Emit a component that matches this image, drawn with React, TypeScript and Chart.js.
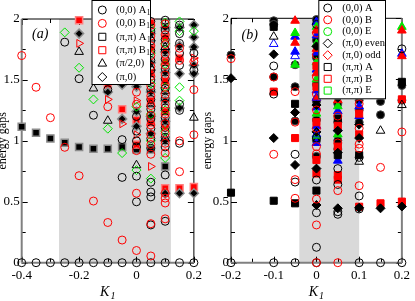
import React, { useEffect, useRef } from "react";
import { Chart, registerables } from "chart.js";

Chart.register(...registerables);

type Pt = [number, number];

const SERIF = "'Liberation Serif', 'Times New Roman', Times, serif";

// ---------- shared axis text ----------
const yTicks = [0, 0.5, 1, 1.5, 2];
const yTickLabels = ["0", "0.5", "1", "1.5", "2"];
const yMinorTicks = [0.25, 0.75, 1.25, 1.75];
const yTitle = "energy gaps";
const xTitleMain = "K";
const xTitleSub = "1";

// ---------- panel (a) ----------
const aXTicks = [-0.4, -0.2, 0, 0.2];
const aXTickLabels = ["-0.4", "-0.2", "0", "0.2"];
const aXMinorTicks = [-0.3, -0.1, 0.1];
const aShade = [-0.27, 0.12];
const aLabel = "(a)";
const aLegendLabels = ["(0,0) A", "(0,0) B", "(π,π) A", "(π,π) B", "(π/2,0)", "(π,0)"];
const aLegendSubs = ["1", "1", "1", "1", "", ""];

const aA1: Pt[] = [
  [-0.4, 0], [-0.35, 0], [-0.3, 0], [-0.25, 0], [-0.2, 0], [-0.15, 0], [-0.1, 0], [-0.05, 0], [0, 0], [0.05, 0], [0.1, 0], [0.15, 0], [0.2, 0],
  [-0.25, 1.81], [-0.2, 1.51], [-0.15, 1.21], [-0.1, 1.42], [-0.05, 1.01], [-0.05, 0.7],
  [0, 1.5], [0, 1.2], [0, 1.08], [0, 1.0], [0, 0.95], [0, 0.71], [0, 0.5],
  [0.05, 1.98], [0.05, 1.9], [0.05, 1.82], [0.05, 1.74], [0.05, 1.66], [0.05, 1.58], [0.05, 1.5], [0.05, 1.42], [0.05, 1.34], [0.05, 1.26], [0.05, 1.18], [0.05, 1.1], [0.05, 1.02], [0.05, 0.94], [0.05, 0.66], [0.05, 0.58], [0.05, 0.54], [0.05, 0.31],
  [0.1, 1.99], [0.1, 1.91], [0.1, 1.83], [0.1, 1.75], [0.1, 1.67], [0.1, 1.59], [0.1, 1.51], [0.1, 1.43], [0.1, 1.35], [0.1, 1.27], [0.1, 1.19], [0.1, 1.11], [0.1, 1.03], [0.1, 0.95], [0.1, 0.72], [0.1, 0.34],
  [0.15, 1.95], [0.15, 1.88], [0.15, 1.8], [0.15, 1.72], [0.15, 1.62], [0.15, 1.3], [0.15, 1.25], [0.15, 0.98],
  [0.2, 1.72], [0.2, 1.58],
];
const aB1: Pt[] = [
  [-0.4, 1.7], [-0.35, 1.44], [-0.3, 1.19], [-0.25, 0.947], [-0.2, 0.714], [-0.15, 0.506], [-0.1, 0.33], [-0.1, 1.28], [-0.05, 0.186],
  [0, 0.1], [0, 0.57], [0, 1.4], [0, 1.3], [0, 0.92],
  [0.05, 1.95], [0.05, 1.86], [0.05, 1.78], [0.05, 1.7], [0.05, 1.61], [0.05, 1.53], [0.05, 1.45], [0.05, 1.37], [0.05, 1.29], [0.05, 1.21], [0.05, 1.13], [0.05, 1.05], [0.05, 0.97], [0.05, 0.89], [0.05, 0.32], [0.05, 0.055],
  [0.1, 1.96], [0.1, 1.87], [0.1, 1.79], [0.1, 1.71], [0.1, 1.62], [0.1, 1.54], [0.1, 1.46], [0.1, 1.38], [0.1, 1.3], [0.1, 1.22], [0.1, 1.14], [0.1, 1.06], [0.1, 0.98], [0.1, 0.9], [0.1, 0.57], [0.1, 0.53], [0.1, 0.49], [0.1, 0.36],
  [0.15, 1.76], [0.15, 1.66], [0.15, 1.0], [0.15, 0.747],
  [0.2, 1.65], [0.2, 1.42], [0.2, 1.05],
];
const aPiPiA1: Pt[] = [
  [-0.4, 1.116], [-0.35, 1.067], [-0.3, 1.02], [-0.25, 0.985], [-0.2, 0.95], [-0.15, 0.935], [-0.1, 0.935], [-0.05, 0.95], [0, 0.93], [0.05, 0.93], [0.1, 0.79],
];
const aPiPiB1: Pt[] = [
  [-0.2, 1.99], [-0.1, 1.46], [-0.05, 1.26], [0, 1.17], [0, 0.97],
  [0.05, 1.97], [0.05, 1.76], [0.05, 1.55], [0.05, 1.33], [0.05, 1.15],
  [0.1, 1.85], [0.1, 1.65], [0.1, 1.49], [0.1, 1.24], [0.1, 1.12], [0.1, 0.61],
  [0.15, 1.68], [0.15, 0.61], [0.2, 0.62],
];
const aHalfPi0: Pt[] = [
  [-0.2, 1.73], [-0.15, 1.43], [-0.1, 1.165], [0, 0.8], [0.05, 1.84], [0.05, 1.6], [0.05, 1.3], [0.1, 1.77], [0.1, 1.41], [0.1, 1.02], [0.2, 1.19],
];
const aPi0: Pt[] = [
  [-0.2, 1.88], [-0.1, 1.4], [-0.05, 1.46], [-0.05, 1.18], [0, 1.7], [0, 1.445], [0, 1.24], [0, 1.12],
  [0.05, 1.88], [0.05, 1.64], [0.05, 1.4], [0.05, 1.2], [0.05, 1.06],
  [0.1, 1.93], [0.1, 1.73], [0.1, 1.56], [0.1, 1.33], [0.1, 1.16], [0.1, 1.0], [0.1, 0.57],
  [0.15, 1.93], [0.15, 1.78], [0.15, 1.55], [0.15, 1.27], [0.15, 0.57],
  [0.2, 1.95], [0.2, 1.85], [0.2, 1.77], [0.2, 1.62], [0.2, 1.55], [0.2, 0.57],
];
const aGreenDiamond: Pt[] = [
  [-0.25, 1.89], [-0.2, 1.6], [-0.15, 1.34], [-0.1, 1.1], [-0.05, 0.9], [0, 0.76], [0, 1.28],
  [0.05, 1.92], [0.05, 1.72], [0.05, 1.47], [0.05, 1.22], [0.05, 1.0], [0.05, 0.69],
  [0.1, 1.97], [0.1, 1.8], [0.1, 1.63], [0.1, 1.44], [0.1, 1.25], [0.1, 1.08], [0.1, 0.86],
  [0.15, 1.98], [0.15, 1.9], [0.15, 1.44], [0.15, 1.33], [0.2, 1.9],
];
const aRedTriangle: Pt[] = [
  [-0.2, 1.8], [-0.1, 1.34], [-0.05, 1.14], [0, 1.33], [0, 1.05], [0.05, 0.79], [0.2, 1.68],
];

// ---------- panel (b) ----------
const bXTicks = [-0.2, -0.1, 0, 0.1, 0.2];
const bXTickLabels = ["-0.2", "-0.1", "0", "0.1", "0.2"];
const bXMinorTicks = [-0.15, -0.05, 0.05, 0.15];
const bShade = [-0.04, 0.1];
const bLabel = "(b)";
const bLegendLabels = ["(0,0) A", "(0,0) B", "(0,0) E", "(π,0) even", "(π,0) odd", "(π,π) A", "(π,π) B", "(π,π) E"];

const bA: Pt[] = [
  [-0.2, 0], [-0.1, 0], [-0.05, 0], [0, 0], [0.1, 0], [0.15, 0], [0.2, 0],
  [-0.1, 1.61], [-0.1, 1.38], [-0.05, 0.887], [-0.05, 0.66], [0, 1.95], [0, 1.02], [0, 0.677], [0, 0.409], [0, 0.126],
  [0.05, 0.77], [0.05, 0.64], [0.05, 0.417], [0.05, 0.396], [0.1, 0.862], [0.1, 0.546], [0.1, 0.44], [0.2, 1.75],
];
const bB: Pt[] = [
  [-0.2, 1.67], [-0.1, 1.52], [-0.1, 0.887], [-0.05, 1.4], [-0.05, 1.15], [-0.05, 0.68], [-0.05, 0.527],
  [0, 1.88], [0, 1.7], [0, 1.52], [0, 1.38], [0, 1.25], [0, 1.1], [0, 0.95], [0, 0.89], [0, 0.52], [0, 0.309], [0, 0],
  [0.05, 1.88], [0.05, 1.66], [0.05, 1.48], [0.05, 1.2], [0.05, 0.98], [0.05, 0.59], [0.05, 0],
  [0.1, 1.92], [0.1, 1.7], [0.1, 1.3], [0.1, 1.1], [0.1, 0.97], [0.1, 0.936], [0.1, 0.63],
  [0.15, 0.78], [0.2, 1.07],
];
const bBlackDot: Pt[] = [
  [-0.2, 1.7], [-0.1, 1.98], [-0.1, 1.95], [-0.1, 1.52], [-0.05, 1.62], [-0.05, 1.44], [-0.05, 1.16],
  [0, 1.99], [0, 1.82], [0, 1.68], [0, 1.46], [0, 1.32], [0, 1.17], [0, 1.0], [0, 0.87],
  [0.05, 1.96], [0.05, 1.78], [0.05, 1.6], [0.05, 1.43], [0.05, 1.3], [0.05, 1.15], [0.05, 1.0], [0.05, 0.93],
  [0.1, 1.98], [0.1, 1.8], [0.1, 1.62], [0.1, 1.33], [0.1, 1.25], [0.1, 1.15],
  [0.15, 1.32], [0.15, 1.21], [0.2, 1.45], [0.2, 1.33],
];
const bEven: Pt[] = [
  [-0.2, 1.51], [-0.1, 1.705], [-0.1, 1.02], [-0.05, 1.23], [-0.05, 0.8],
  [0, 1.77], [0, 1.29], [0, 1.07], [0, 0.77], [0, 0.472],
  [0.05, 1.86], [0.05, 1.57], [0.05, 1.35], [0.05, 1.08], [0.05, 0.9], [0.05, 0.445],
  [0.1, 1.5], [0.1, 1.13], [0.1, 1.02], [0.1, 0.45], [0.15, 0.445], [0.2, 0.46],
];
const bPiPiA: Pt[] = [
  [-0.2, 0.573], [-0.1, 1.93], [-0.1, 0.507], [-0.05, 1.3], [-0.05, 0.486], [0, 0.59],
  [0.05, 1.65], [0.05, 1.18], [0.05, 0.88], [0.1, 0.88], [0.2, 1.48],
];
const bPiPiB: Pt[] = [
  [-0.1, 1.4], [-0.05, 1.02], [0, 1.61], [0, 1.44], [0, 1.15], [0, 0.84], [0, 0.73],
  [0.05, 1.75], [0.05, 1.38], [0.05, 1.12], [0.05, 0.95], [0.05, 0.717], [0.05, 0.68],
  [0.1, 1.65], [0.1, 1.22], [0.1, 1.05], [0.1, 0.458], [0.15, 0.486], [0.2, 0.5], [0.2, 1.337],
];
const bBlueTri: Pt[] = [
  [-0.05, 1.85], [-0.05, 1.727], [0, 1.97], [0, 1.86], [0, 1.72], [0, 1.58], [0, 1.41], [0, 1.27], [0, 1.12], [0, 0.98],
  [0.05, 1.98], [0.05, 1.84], [0.05, 1.7], [0.05, 1.55], [0.05, 1.4], [0.05, 1.24], [0.05, 1.1], [0.05, 0.835],
  [0.1, 1.88], [0.1, 1.55], [0.1, 1.28], [0.1, 1.2], [0.2, 1.71],
];
const bBlueOpenTri: Pt[] = [[-0.1, 1.79], [-0.05, 1.69], [0, 1.05], [0, 1.35]];
const bGreenTri: Pt[] = [
  [-0.05, 1.88], [-0.05, 1.62], [0, 1.93], [0, 1.79], [0, 1.64], [0, 1.5], [0, 1.22], [0, 1.04],
  [0.05, 1.94], [0.05, 1.8], [0.05, 1.62], [0.05, 1.47], [0.05, 1.28], [0.05, 1.05], [0.1, 1.75], [0.1, 1.45], [0.2, 1.93],
];
const bRedTri: Pt[] = [
  [-0.05, 1.98], [-0.05, 1.8], [0, 1.9], [0, 1.75], [0, 1.55], [0, 1.35],
  [0.05, 1.91], [0.05, 1.73], [0.05, 1.52], [0.05, 1.33], [0.2, 1.9], [0.2, 1.69],
];
const bBlackOpenTri: Pt[] = [[-0.1, 1.85], [0.1, 0.826], [0.15, 1.08], [0.2, 1.29]];

// ---------- styling ----------
const RED = "#ff0000";
const GREEN = "#00e600";
const BLUE = "#0000ff";
const NONE = "rgba(0,0,0,0)";
const GRAYRING = "#8c8c8c";

type Mk = { style: string; r: number; stroke: string; fill: string; lw: number; rot?: number };

const ds = (data: Pt[], m: Mk) => ({
  data: data.map(([x, y]) => ({ x, y })),
  pointStyle: m.style,
  pointRadius: m.r,
  pointHoverRadius: m.r,
  pointBorderWidth: m.lw,
  pointBorderColor: m.stroke,
  pointBackgroundColor: m.fill,
  pointRotation: m.rot || 0,
  showLine: false,
  clip: false as const,
});

const openCircle = (c: string): Mk => ({ style: "circle", r: 4, stroke: c, fill: NONE, lw: 1 });

const aDatasets = [
  ds(aB1, openCircle(RED)),
  ds(aA1, openCircle("#000")),
  ds(aGreenDiamond, { style: "rectRot", r: 4.5, stroke: GREEN, fill: NONE, lw: 1 }),
  ds(aRedTriangle, { style: "triangle", r: 4.5, stroke: RED, fill: NONE, lw: 1, rot: 90 }),
  ds(aHalfPi0, { style: "triangle", r: 5, stroke: "#000", fill: NONE, lw: 1 }),
  ds(aPi0, { style: "rectRot", r: 4.5, stroke: GRAYRING, fill: "#000", lw: 1.5 }),
  ds(aPiPiB1, { style: "rect", r: 5, stroke: "#ff8080", fill: RED, lw: 1.5 }),
  ds(aPiPiA1, { style: "rect", r: 5, stroke: GRAYRING, fill: "#000", lw: 1.5 }),
];

const bDatasets = [
  ds(bB, openCircle(RED)),
  ds(bA, openCircle("#000")),
  ds(bBlackOpenTri, { style: "triangle", r: 5, stroke: "#000", fill: NONE, lw: 1 }),
  ds(bBlueOpenTri, { style: "triangle", r: 5, stroke: BLUE, fill: NONE, lw: 1 }),
  ds(bEven, { style: "rectRot", r: 4.5, stroke: "#000", fill: "#000", lw: 1 }),
  ds(bPiPiB, { style: "rect", r: 5, stroke: RED, fill: RED, lw: 1 }),
  ds(bPiPiA, { style: "rect", r: 5, stroke: "#000", fill: "#000", lw: 1 }),
  ds(bRedTri, { style: "triangle", r: 5, stroke: RED, fill: RED, lw: 1 }),
  ds(bGreenTri, { style: "triangle", r: 5, stroke: GREEN, fill: GREEN, lw: 1 }),
  ds(bBlueTri, { style: "triangle", r: 5, stroke: BLUE, fill: BLUE, lw: 1 }),
  ds(bBlackDot, { style: "circle", r: 4, stroke: "#444", fill: "#000", lw: 1 }),
];

const aLegendMarks: Mk[] = [
  openCircle("#000"),
  openCircle(RED),
  { style: "rect", r: 5, stroke: "#000", fill: NONE, lw: 1 },
  { style: "rect", r: 5, stroke: RED, fill: NONE, lw: 1 },
  { style: "triangle", r: 5, stroke: "#000", fill: NONE, lw: 1 },
  { style: "rectRot", r: 4.5, stroke: "#000", fill: NONE, lw: 1 },
];
const bLegendMarks: Mk[] = [
  openCircle("#000"),
  openCircle(RED),
  openCircle(GREEN),
  { style: "rectRot", r: 4.5, stroke: "#000", fill: NONE, lw: 1 },
  { style: "rectRot", r: 4.5, stroke: RED, fill: NONE, lw: 1 },
  { style: "rect", r: 5, stroke: "#000", fill: NONE, lw: 1 },
  { style: "rect", r: 5, stroke: RED, fill: NONE, lw: 1 },
  { style: "rect", r: 5, stroke: GREEN, fill: NONE, lw: 1 },
];

function drawMark(ctx: CanvasRenderingContext2D, m: Mk, x: number, y: number) {
  const r = m.r;
  ctx.beginPath();
  if (m.style === "circle") ctx.arc(x, y, r, 0, Math.PI * 2);
  else if (m.style === "rect") {
    const h = r * Math.SQRT1_2;
    ctx.rect(x - h, y - h, 2 * h, 2 * h);
  } else if (m.style === "rectRot") {
    ctx.moveTo(x, y - r); ctx.lineTo(x + r, y); ctx.lineTo(x, y + r); ctx.lineTo(x - r, y); ctx.closePath();
  } else {
    for (let i = 0; i < 3; i++) {
      const a = (i * 2 * Math.PI) / 3;
      const px = x + Math.sin(a) * r, py = y - Math.cos(a) * r;
      if (i === 0) ctx.moveTo(px, py); else ctx.lineTo(px, py);
    }
    ctx.closePath();
  }
  if (m.fill !== NONE) { ctx.fillStyle = m.fill; ctx.fill(); }
  ctx.lineWidth = m.lw; ctx.strokeStyle = m.stroke; ctx.stroke();
}

type PanelCfg = {
  width: number; left: number;
  xMin: number; xMax: number; xTicks: number[]; xTickLabels: string[]; xMinor: number[];
  shade: number[]; label: string; labelPos: [number, number];
  datasets: any[];
  pad: { top: number; right: number }; yAxisW: number; xAxisH: number;
  spines: { left: [string, number]; bottom: [string, number]; right: [string, number]; top: [string, number] };
  legend: { labels: string[]; subs: string[]; marks: Mk[]; box: [number, number, number, number]; row0: number; rowH: number; symX: number; textX: number; font: number };
  yTitleX: number;
};

function decorPlugin(cfg: PanelCfg) {
  return {
    id: "decor",
    beforeDatasetsDraw(chart: any) {
      const { ctx, chartArea: a, scales } = chart;
      const xs = scales.x, ys = scales.y;
      ctx.save();
      const s0 = xs.getPixelForValue(cfg.shade[0]);
      const s1 = xs.getPixelForValue(cfg.shade[1]);
      ctx.fillStyle = "#d9d9d9";
      ctx.fillRect(s0, a.top, s1 - s0, a.bottom - a.top);
      // ticks (inward on all sides)
      ctx.strokeStyle = "#000";
      ctx.lineWidth = 1;
      ctx.beginPath();
      const xt: [number[], number][] = [[cfg.xTicks, 6], [cfg.xMinor, 4]];
      for (const [vals, L] of xt) for (const v of vals) {
        const px = Math.round(xs.getPixelForValue(v)) + 0.5;
        ctx.moveTo(px, a.bottom); ctx.lineTo(px, a.bottom - L);
        ctx.moveTo(px, a.top); ctx.lineTo(px, a.top + L);
      }
      const yt: [number[], number][] = [[yTicks, 6], [yMinorTicks, 4]];
      for (const [vals, L] of yt) for (const v of vals) {
        const py = Math.round(ys.getPixelForValue(v)) + 0.5;
        ctx.moveTo(a.left, py); ctx.lineTo(a.left + L, py);
        ctx.moveTo(a.right, py); ctx.lineTo(a.right - L, py);
      }
      ctx.stroke();
      // spines
      const line = (x0: number, y0: number, x1: number, y1: number, s: [string, number]) => {
        ctx.strokeStyle = s[0]; ctx.lineWidth = s[1];
        ctx.beginPath(); ctx.moveTo(x0, y0); ctx.lineTo(x1, y1); ctx.stroke();
      };
      line(a.left, a.top, a.right, a.top, cfg.spines.top);
      line(a.right, a.top, a.right, a.bottom, cfg.spines.right);
      line(a.left, a.top, a.left, a.bottom, cfg.spines.left);
      line(a.left, a.bottom, a.right, a.bottom, cfg.spines.bottom);
      ctx.restore();
    },
    afterDatasetsDraw(chart: any) {
      const { ctx, chartArea: a } = chart;
      ctx.save();
      // panel label
      ctx.fillStyle = "#000";
      ctx.font = `italic 14px ${SERIF}`;
      ctx.textBaseline = "middle";
      ctx.textAlign = "left";
      ctx.fillText(cfg.label, cfg.labelPos[0], cfg.labelPos[1]);
      // legend
      const L = cfg.legend;
      const [bx0, by0, bx1, by1] = L.box;
      ctx.fillStyle = "#fff";
      ctx.fillRect(bx0, by0, bx1 - bx0, by1 - by0);
      ctx.strokeStyle = "#000";
      ctx.lineWidth = 1;
      ctx.strokeRect(bx0 + 0.5, by0 + 0.5, bx1 - bx0 - 1, by1 - by0 - 1);
      L.labels.forEach((t, i) => {
        const cy = L.row0 + i * L.rowH;
        drawMark(ctx, L.marks[i], L.symX, cy);
        ctx.fillStyle = "#000";
        ctx.font = `${L.font}px ${SERIF}`;
        ctx.textBaseline = "middle";
        ctx.fillText(t, L.textX, cy);
        const sub = L.subs[i];
        if (sub) {
          const w = ctx.measureText(t).width;
          ctx.font = `${L.font * 0.7}px ${SERIF}`;
          ctx.fillText(sub, L.textX + w + 0.5, cy + 3);
        }
      });
      // axis titles
      ctx.fillStyle = "#000";
      const cx = (a.left + a.right) / 2;
      ctx.font = `italic 14px ${SERIF}`;
      ctx.textBaseline = "alphabetic";
      const kw = ctx.measureText(xTitleMain).width;
      ctx.font = `italic 10px ${SERIF}`;
      const sw = ctx.measureText(xTitleSub).width;
      const x0 = cx - (kw + sw + 1) / 2;
      ctx.font = `italic 14px ${SERIF}`;
      ctx.fillText(xTitleMain, x0, 296);
      ctx.font = `italic 10px ${SERIF}`;
      ctx.fillText(xTitleSub, x0 + kw + 1, 299);
      ctx.save();
      ctx.translate(cfg.yTitleX, (a.top + a.bottom) / 2);
      ctx.rotate(-Math.PI / 2);
      ctx.font = `12px ${SERIF}`;
      ctx.textAlign = "center";
      ctx.textBaseline = "alphabetic";
      ctx.fillText(yTitle, 0, 0);
      ctx.restore();
      ctx.restore();
    },
  };
}

function Panel({ cfg }: { cfg: PanelCfg }) {
  const ref = useRef<HTMLCanvasElement>(null);
  useEffect(() => {
    const chart = new Chart(ref.current as HTMLCanvasElement, {
      type: "scatter",
      data: { datasets: cfg.datasets },
      options: {
        responsive: false,
        animation: false,
        events: [],
        layout: { padding: { top: cfg.pad.top, right: cfg.pad.right, left: 0, bottom: 0 } },
        plugins: { legend: { display: false }, tooltip: { enabled: false } },
        scales: {
          x: {
            type: "linear",
            min: cfg.xMin,
            max: cfg.xMax,
            grid: { display: false, drawTicks: false },
            border: { display: false },
            afterBuildTicks: (axis: any) => { axis.ticks = cfg.xTicks.map((v) => ({ value: v })); },
            afterFit: (s: any) => { s.height = cfg.xAxisH; },
            ticks: {
              autoSkip: false,
              maxRotation: 0,
              padding: 5,
              color: "#000",
              font: { family: SERIF, size: 13 },
              callback: (_v: any, i: number) => cfg.xTickLabels[i],
            },
          },
          y: {
            type: "linear",
            min: 0,
            max: 2,
            grid: { display: false, drawTicks: false },
            border: { display: false },
            afterBuildTicks: (axis: any) => { axis.ticks = yTicks.map((v) => ({ value: v })); },
            afterFit: (s: any) => { s.width = cfg.yAxisW; },
            ticks: {
              padding: 2,
              color: "#000",
              font: { family: SERIF, size: 13 },
              callback: (_v: any, i: number) => yTickLabels[i],
            },
          },
        },
      } as any,
      plugins: [decorPlugin(cfg)],
    });
    return () => chart.destroy();
  }, [cfg]);
  return (
    <canvas
      ref={ref}
      width={cfg.width}
      height={301}
      style={{ position: "absolute", left: cfg.left, top: 0, width: cfg.width, height: 301 }}
    />
  );
}

const GRAY_SPINE: [string, number] = ["#808080", 2];
const BLACK_SPINE: [string, number] = ["#000", 1];

const cfgA: PanelCfg = {
  width: 207, left: 0,
  xMin: -0.4, xMax: 0.2, xTicks: aXTicks, xTickLabels: aXTickLabels, xMinor: aXMinorTicks,
  shade: aShade, label: aLabel, labelPos: [32, 34],
  datasets: aDatasets,
  pad: { top: 19, right: 10 }, yAxisW: 21.7, xAxisH: 38.3,
  spines: { left: GRAY_SPINE, bottom: GRAY_SPINE, right: BLACK_SPINE, top: BLACK_SPINE },
  legend: { labels: aLegendLabels, subs: aLegendSubs, marks: aLegendMarks, box: [91.5, 0, 151, 85], row0: 10, rowH: 13.4, symX: 102.3, textX: 116, font: 10.5 },
  yTitleX: 5.5,
};

const cfgB: PanelCfg = {
  width: 215, left: 200,
  xMin: -0.2, xMax: 0.2, xTicks: bXTicks, xTickLabels: bXTickLabels, xMinor: bXMinorTicks,
  shade: bShade, label: bLabel, labelPos: [41.5, 35],
  datasets: bDatasets,
  pad: { top: 18.3, right: 9.3 }, yAxisW: 31, xAxisH: 38.3,
  spines: { left: BLACK_SPINE, bottom: GRAY_SPINE, right: GRAY_SPINE, top: BLACK_SPINE },
  legend: { labels: bLegendLabels, subs: bLegendLabels.map(() => ""), marks: bLegendMarks, box: [118.3, 0, 186, 99.3], row0: 8, rowH: 11.8, symX: 127.7, textX: 142.3, font: 10.5 },
  yTitleX: 10.5,
};

export default function App() {
  return (
    <div style={{ position: "fixed", left: 0, top: 0, width: 415, height: 301, background: "#fff", overflow: "hidden" }}>
      <Panel cfg={cfgA} />
      <Panel cfg={cfgB} />
    </div>
  );
}
